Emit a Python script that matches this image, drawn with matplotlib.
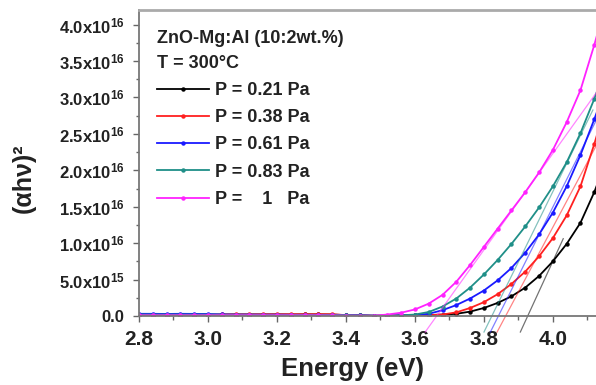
import matplotlib
matplotlib.use("Agg")
import matplotlib.pyplot as plt
from matplotlib.ticker import MultipleLocator, FuncFormatter

plt.rcParams["font.family"] = ["Liberation Sans", "DejaVu Sans"]
plt.rcParams["font.weight"] = "bold"
plt.rcParams["mathtext.fontset"] = "custom"
plt.rcParams["mathtext.rm"] = "Liberation Sans:bold"
plt.rcParams["mathtext.it"] = "Liberation Sans:bold"
plt.rcParams["mathtext.bf"] = "Liberation Sans:bold"

# photon energy (eV)
energy = [2.80, 2.84, 2.88, 2.92, 2.96, 3.00, 3.04, 3.08, 3.12, 3.16, 3.20, 3.24,
          3.28, 3.32, 3.36, 3.40, 3.44, 3.48, 3.52, 3.56, 3.60, 3.64, 3.68, 3.72,
          3.76, 3.80, 3.84, 3.88, 3.92, 3.96, 4.00, 4.04, 4.08, 4.12, 4.16]

# (alpha h nu)^2 in units of 1e16
p021 = [0.012, 0.012, 0.012, 0.012, 0.012, 0.012, 0.015, 0.016, 0.016, 0.016, 0.018, 0.018,
        0.022, 0.022, 0.020, 0.012, 0.008, 0.003, 0.003, 0.005, 0.008, 0.012, 0.020, 0.030,
        0.060, 0.110, 0.180, 0.270, 0.390, 0.550, 0.750, 0.990, 1.280, 1.700, 2.200]
p038 = [0.015, 0.016, 0.015, 0.014, 0.015, 0.016, 0.025, 0.026, 0.026, 0.027, 0.027, 0.026,
        0.026, 0.025, 0.024, 0.012, 0.008, 0.004, 0.005, 0.008, 0.010, 0.012, 0.020, 0.050,
        0.110, 0.190, 0.300, 0.440, 0.610, 0.820, 1.070, 1.380, 1.780, 2.360, 3.000]
p061 = [0.030, 0.030, 0.028, 0.030, 0.029, 0.028, 0.022, 0.020, 0.020, 0.018, 0.018, 0.016,
        0.016, 0.015, 0.014, 0.012, 0.010, 0.005, 0.005, 0.010, 0.015, 0.030, 0.080, 0.150,
        0.240, 0.350, 0.490, 0.660, 0.870, 1.120, 1.420, 1.780, 2.210, 2.700, 3.220]
p083 = [0.020, 0.020, 0.020, 0.020, 0.020, 0.020, 0.018, 0.018, 0.018, 0.017, 0.017, 0.016,
        0.016, 0.015, 0.014, 0.012, 0.008, 0.004, 0.005, 0.010, 0.020, 0.055, 0.130, 0.240,
        0.390, 0.570, 0.770, 0.990, 1.230, 1.490, 1.780, 2.110, 2.510, 2.980, 3.510]
p100 = [0.010, 0.010, 0.010, 0.010, 0.010, 0.010, 0.010, 0.010, 0.010, 0.010, 0.010, 0.010,
        0.010, 0.010, 0.008, 0.006, 0.005, 0.003, 0.020, 0.045, 0.090, 0.170, 0.290, 0.470,
        0.700, 0.950, 1.200, 1.450, 1.700, 1.970, 2.280, 2.660, 3.100, 3.720, 4.400]

series = [p021, p038, p061, p083, p100]
labels = ["P = 0.21 Pa", "P = 0.38 Pa", "P = 0.61 Pa", "P = 0.83 Pa", "P =    1   Pa"]
colors = ["black", "#ff2020", "#1a1aff", "#1f8f88", "#ff22ff"]

# Tauc extrapolation lines: band gap intercept, slope (1e16 per eV), end energy
gap = [3.927, 3.863, 3.842, 3.823, 3.663]
slope = [10.3, 8.9, 9.47, 9.65, 6.62]
fit_end = [4.03, 4.125, 4.125, 4.116, 4.125]

fig = plt.figure(figsize=(5.96, 3.85), dpi=100)
ax = fig.add_axes([139 / 596, 69 / 385, 457 / 596, 306 / 385])

for ys, lab, c in zip(series, labels, colors):
    ax.plot(energy, ys, color=c, lw=1.3, marker="o", ms=2.2, label=lab)

for g, s, e, c in zip(gap, slope, fit_end, colors):
    y0 = -0.22
    ax.plot([g + y0 / s, e], [y0, s * (e - g)], color=c, lw=0.9, alpha=0.55,
            clip_on=False)

ax.set_xlim(2.8, 4.125)
ax.set_ylim(0, 4.2)
ax.xaxis.set_major_locator(MultipleLocator(0.2))
ax.xaxis.set_minor_locator(MultipleLocator(0.1))
ax.yaxis.set_major_locator(MultipleLocator(0.5))
ax.yaxis.set_minor_locator(MultipleLocator(0.25))


def ylab(v, pos):
    if abs(v) < 1e-9:
        return "0.0"
    if abs(v - 0.5) < 1e-9:
        return r"5.0x10$^{15}$"
    return "%.1fx10$^{16}$" % v


ax.yaxis.set_major_formatter(FuncFormatter(ylab))
ax.tick_params(axis="y", which="major", direction="out", length=4.5, width=1,
               colors="#666666", labelcolor="#222222", labelsize=12, pad=6)
ax.tick_params(axis="y", which="minor", direction="out", length=2.5, width=1,
               colors="#666666")
ax.tick_params(axis="x", which="major", direction="out", length=4, width=1,
               colors="#666666", labelcolor="#222222", labelsize=15, pad=6)
ax.tick_params(axis="x", which="minor", direction="out", length=3, width=1,
               colors="#666666")

for side in ["left", "bottom"]:
    ax.spines[side].set_color("#777777")
    ax.spines[side].set_linewidth(1.3)
ax.spines["top"].set_color("#aaaaaa")
ax.spines["top"].set_linewidth(2)
ax.spines["right"].set_visible(False)

ax.set_xlabel("Energy (eV)", fontsize=18.5, fontweight="bold", color="#222222")
ax.set_ylabel("(αhν)²", fontsize=18, fontweight="bold", color="#222222")
ax.xaxis.set_label_coords(0.468, -0.135)
ax.yaxis.set_label_coords(-0.225, 0.45)

ax.text(0.039, 0.908, "ZnO-Mg:Al (10:2wt.%)", transform=ax.transAxes,
        fontsize=13, fontweight="bold", color="#222222", va="center")
ax.text(0.039, 0.824, "T = 300°C", transform=ax.transAxes,
        fontsize=13, fontweight="bold", color="#222222", va="center")

leg = ax.legend(loc="upper left", bbox_to_anchor=(0.039, 0.765), frameon=False,
                prop={"size": 13, "weight": "bold"},
                handlelength=2.9, handletextpad=0.33, labelspacing=0.57,
                borderpad=0, borderaxespad=0)
for t in leg.get_texts():
    t.set_color("#222222")

fig.savefig("out.png", dpi=100)
